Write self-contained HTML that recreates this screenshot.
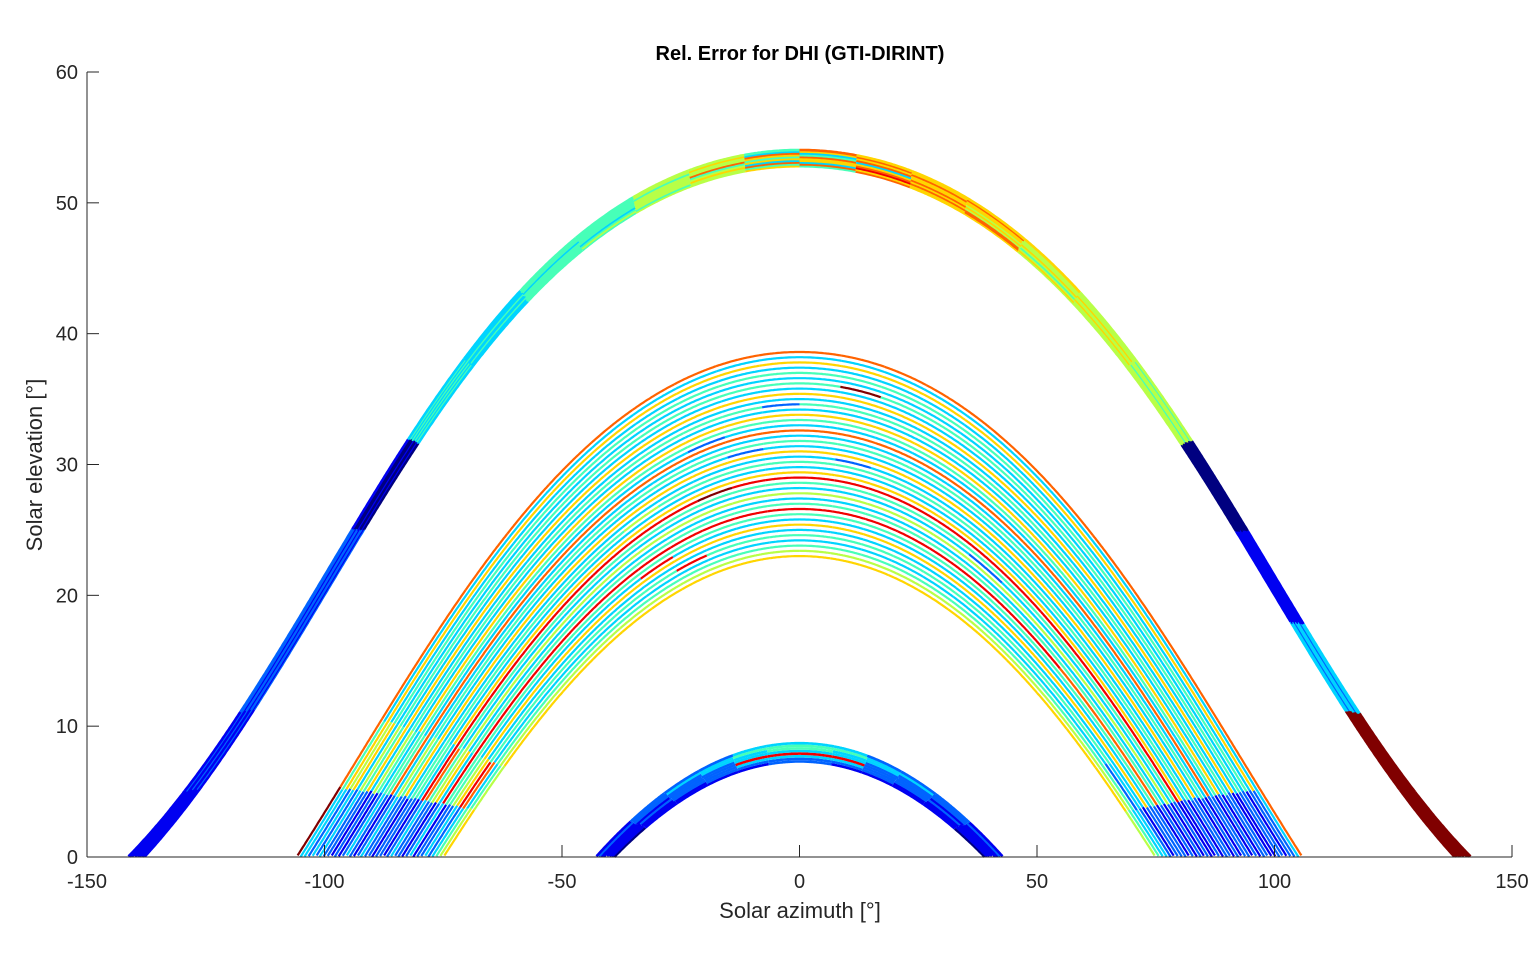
<!DOCTYPE html>
<html><head><meta charset="utf-8"><style>
html,body{margin:0;padding:0;background:#fff;}
svg{display:block;font-family:"Liberation Sans",Arial,sans-serif;}
</style></head><body>
<svg id="chart" width="1538" height="963" viewBox="0 0 1538 963" xmlns="http://www.w3.org/2000/svg">
<rect width="1538" height="963" fill="#fff"/>
<text x="800" y="60" text-anchor="middle" font-size="20" font-weight="bold" fill="#000">Rel. Error for DHI (GTI-DIRINT)</text>
<g id="plot"></g>
<g id="axes"></g>
<text x="800" y="918" text-anchor="middle" font-size="22" fill="#262626">Solar azimuth [°]</text>
<text transform="translate(42,465) rotate(-90)" text-anchor="middle" font-size="22" fill="#262626">Solar elevation [°]</text>
</svg>
<script>
// ---- data ----
const xTicks = [-150,-100,-50,0,50,100,150];
const yTicks = [0,10,20,30,40,50,60];
const latitude = 59.4;
const summerDecl = [22.2,22.34,22.48,22.62,22.76,22.9,23.04,23.18,23.32,23.44];
const summerErr  = ["112203344556476655501399","111103345454766765501399","122214344567387755501399","112203443553676546501299","111104344546667655401399",
                    "122213344574736565501399","112204434556476656501399","111103344457367655501299","122204344563676755401399","112213344554766665501399"];
const winterDecl = [-23.3,-23.1,-22.9,-22.7,-22.5,-22.3,-22.1,-21.9];
const winterErr  = ["011112211110","111222222111","112233332211","122288882221","112233332211","122334433221","223344443322","122233332221"];
const middleDecl = [-7.6,-7.2,-6.8,-6.4,-6.0,-5.6,-5.2,-4.8,-4.4,-4.0,-3.6,-3.2,-2.8,-2.4,-2.0,-1.6,-1.2,-0.8,-0.4,0.0,
                    0.4,0.8,1.2,1.6,2.0,2.4,2.8,3.2,3.6,4.0,4.4,4.8,5.2,5.6,6.0,6.4,6.8,7.2,7.6,8.0];
const middleErr  = ["656666666666666666666665","545555555555555555555554","434444444444444444444443","373333333333333333333323","284444448444444444444432",
                    "363333333333333333333331","256666666666666666666662","243333383333333333333332","144444444444444444444442","388888888888888888887771",
                    "234444444444444444444442","163333333333333333333331","255555555555555555555552","243333333333333332333331","374444444444444444444442",
                    "288888888988888888888881","136666666666666666666661","243333333333333333333332","244444454444444444444441","133333333333323333333332",
                    "266666666666666666666662","243333333323333333333331","354444444444444444444442","233333333333333333333331","177777777777777777777772",
                    "243333333233333333333332","344444444444444444444441","236666666666666666666662","143333333333333333333331","254444444442444444444442",
                    "133333333333333333333332","266666666666666666666661","243333333333333333333331","354444444444494444444442","233333333333333333333332",
                    "364444444444444444444441","253333333333333333333332","366666666666666666666662","343333333333333333333333","977777777777777777777777"];
// ---- scales ----
const X0=87, X1=1512, Y0=857, Y1=72;
function xs(v){return X0+(v+150)/300*(X1-X0);}
function ys(v){return Y0-(v/60)*(Y0-Y1);}
function jet(v){
  function c(x){return Math.max(0,Math.min(1,x));}
  const r=c(1.5-Math.abs(4*v-3)), g=c(1.5-Math.abs(4*v-2)), b=c(1.5-Math.abs(4*v-1));
  return `rgb(${Math.round(r*255)},${Math.round(g*255)},${Math.round(b*255)})`;
}
const D=Math.PI/180;
function sunPath(dec){
  const pts=[];
  for(let H=-180;H<=180;H+=0.25){
    const h=H*D, d=dec*D, l=latitude*D;
    const se=Math.sin(l)*Math.sin(d)+Math.cos(l)*Math.cos(d)*Math.cos(h);
    const el=Math.asin(se)/D;
    if(el<0) continue;
    const az=Math.atan2(Math.sin(h), Math.cos(h)*Math.sin(l)-Math.tan(d)*Math.cos(l))/D;
    pts.push([az,el]);
  }
  return pts;
}
const NS="http://www.w3.org/2000/svg";
const plot=document.getElementById('plot');
function drawGroup(decls, errs, name, w){
  decls.forEach((dec,i)=>{
    const pts=sunPath(dec); const s=errs[i]; const n=s.length;
    const azMin=pts[0][0], azMax=pts[pts.length-1][0];
    const g=document.createElementNS(NS,'g');
    
    
    const segs=[];
    pts.forEach(p=>{
      let k=Math.floor((p[0]-azMin)/(azMax-azMin)*n); if(k>=n)k=n-1; if(k<0)k=0;
      (segs[k]=segs[k]||[]).push(p);
    });
    for(let k=0;k<n;k++){
      if(!segs[k]) continue;
      const arr=segs[k].slice();
      if(segs[k+1]) arr.push(segs[k+1][0]);
      let d='';
      arr.forEach((p,j)=>{d+=(j===0?'M':'L')+xs(p[0]).toFixed(1)+','+ys(p[1]).toFixed(1);});
      const p=document.createElementNS(NS,'path');
      p.setAttribute('d',d); p.setAttribute('fill','none');
      p.setAttribute('stroke',jet(parseInt(s[k])/9)); p.setAttribute('stroke-width',w);
      
      
      g.appendChild(p);
    }
    plot.appendChild(g);
  });
}
drawGroup(middleDecl, middleErr, 'equinox', '2.2');
drawGroup(summerDecl, summerErr, 'summer', '2.6');
drawGroup(winterDecl, winterErr, 'winter', '2.6');
// ---- axes ----
const axes=document.getElementById('axes');
function add(tag,attrs,txt){const e=document.createElementNS(NS,tag);for(const k in attrs)e.setAttribute(k,attrs[k]);if(txt!==undefined)e.textContent=txt;axes.appendChild(e);return e;}
const xl=add('line',{x1:X0,y1:Y0,x2:X1,y2:Y0,stroke:'#262626','stroke-width':1});


const yl=add('line',{x1:X0,y1:Y0,x2:X0,y2:Y1,stroke:'#262626','stroke-width':1});


xTicks.forEach(v=>{
  const t=add('line',{x1:xs(v),y1:Y0,x2:xs(v),y2:Y0-12,stroke:'#262626'});
  
  
  const l=add('text',{x:xs(v),y:Y0+31,'text-anchor':'middle','font-size':20,fill:'#262626'},String(v));
  
  
});
yTicks.forEach(v=>{
  const t=add('line',{x1:X0,y1:ys(v),x2:X0+12,y2:ys(v),stroke:'#262626'});
  
  
  const l=add('text',{x:X0-9,y:ys(v)+7,'text-anchor':'end','font-size':20,fill:'#262626'},String(v));
  
  
});
</script>
</body></html>
